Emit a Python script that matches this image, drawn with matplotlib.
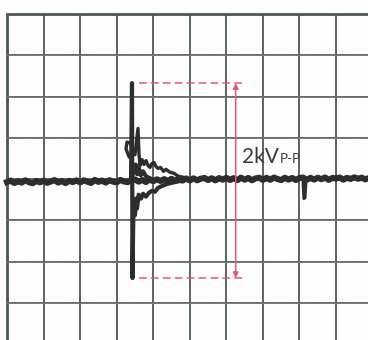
import numpy as np
import matplotlib
matplotlib.use("Agg")
import matplotlib.pyplot as plt

# Scope settings
KV_PER_DIV = 0.4235          # vertical scale, kV per division
N_XDIV, N_YDIV = 10, 8       # graticule divisions

# Baseline trace, sampled every 0.1 div (time in divisions, voltage in kV)
base_t = np.round(np.arange(0.0, 10.0, 0.1), 2)
base_v = [
    -0.030, -0.015, -0.040, -0.022, -0.036, -0.012, -0.031, -0.042, -0.019, -0.033,
    -0.016, -0.038, -0.024, -0.010, -0.035, -0.020, -0.041, -0.018, -0.030, -0.013,
    -0.034, -0.012, -0.027, -0.039, -0.008, -0.028, -0.015, -0.036, -0.011, -0.026,
    -0.033, -0.008, -0.024, -0.031, -0.012, -0.004, -0.026, -0.009, -0.030, -0.003,
    -0.022, -0.002, -0.019, 0.000, -0.020, 0.003, -0.017, 0.005, -0.016, 0.007,
    -0.014, 0.008, -0.012, 0.004, 0.012, -0.010, 0.009, -0.013, 0.011, -0.006,
    0.013, -0.009, 0.010, -0.011, 0.015, -0.006, 0.012, -0.012, 0.008, 0.014,
    -0.008, 0.013, -0.007, 0.016, 0.001, -0.010, 0.014, -0.005, 0.012, -0.009,
    0.011, 0.016, -0.007, 0.013, -0.005, 0.014, -0.001, 0.017, -0.008, 0.012,
    0.006, 0.016, -0.006, 0.013, 0.002, 0.018, 0.004, 0.015, -0.003, 0.011,
]

# Main pulse with the lower ringing branch
pulse_t = [3.392, 3.419, 3.432, 3.460, 3.500, 3.530, 3.556, 3.600, 3.665, 3.720,
           3.800, 3.884, 3.966, 4.048, 4.130, 4.240, 4.376, 4.595, 4.800]
pulse_v = [-0.020, 0.985, -1.015, -0.250, -0.370, -0.200, -0.300, -0.160, -0.200, -0.150,
           -0.180, -0.140, -0.120, -0.130, -0.090, -0.070, -0.050, -0.030, -0.015]

# Upper ringing branch (loop + secondary spike)
upper_t = [3.419, 3.337, 3.255, 3.282, 3.364, 3.419, 3.500, 3.583, 3.611, 3.638,
           3.693, 3.747, 3.802, 3.857, 3.911, 3.966, 4.020, 4.075, 4.130, 4.200,
           4.280, 4.349, 4.458, 4.568, 4.677, 4.814, 4.951]
upper_v = [0.200, 0.230, 0.310, 0.380, 0.370, 0.330, 0.250, 0.520, 0.250, 0.140,
           0.200, 0.150, 0.190, 0.140, 0.120, 0.160, 0.170, 0.130, 0.110, 0.120,
           0.080, 0.100, 0.070, 0.060, 0.030, 0.020, 0.000]

# Middle sweep around the pulse
mid_t = [3.440, 3.470, 3.520, 3.560, 3.600, 3.660, 3.720, 3.800, 3.900]
mid_v = [0.050, 0.100, 0.150, 0.050, 0.120, 0.040, 0.080, 0.030, 0.010]

# Small glitch later in the sweep
glitch_t = [8.096, 8.120, 8.150, 8.178]
glitch_v = [-0.010, -0.200, -0.190, -0.010]

# Peak-to-peak annotation
label_main = "2kV"
label_sub = "P-P"

trace_color = "#2a2f2c"
grid_color = "#4b5854"
pink = "#e2557f"
paper = "#fdfdfb"

fig = plt.figure(figsize=(3.68, 3.40), dpi=100, facecolor=paper)
ax = fig.add_axes([0, 0, 1, 1])
ax.set_facecolor(paper)
ax.set_xlim(-0.1915, 9.874)
ax.set_ylim(-1.650, 1.837)
ax.axis("off")

# Graticule
half = N_YDIV / 2
for i in range(N_XDIV + 1):
    lw = 2.0 if i in (0, N_XDIV) else 1.3
    ax.plot([i, i], [-half * KV_PER_DIV, half * KV_PER_DIV], color=grid_color,
            lw=lw, solid_capstyle="butt", zorder=1)
for j in range(-int(half), int(half) + 1):
    y = j * KV_PER_DIV
    if abs(j) == half:
        ax.plot([0, N_XDIV], [y, y], color=grid_color, lw=2.0, zorder=1)
    else:
        ax.plot([0, N_XDIV], [y, y], color="#606c68", lw=1.4, zorder=1)
        ax.plot([0, N_XDIV], [y, y], color=paper, lw=0.5, alpha=0.3,
                dashes=(1, 1), zorder=1)

# Traces
ax.plot(base_t, base_v, color=trace_color, lw=4.4, solid_joinstyle="round", zorder=3)
ax.plot(pulse_t, pulse_v, color=trace_color, lw=3.0, solid_capstyle="butt",
        solid_joinstyle="round", zorder=4)
ax.plot(upper_t, upper_v, color=trace_color, lw=2.4, solid_joinstyle="round", zorder=4)
ax.plot(mid_t, mid_v, color=trace_color, lw=3.0, solid_joinstyle="round", zorder=4)
ax.plot(glitch_t, glitch_v, color=trace_color, lw=2.2, zorder=4)

# Peak-to-peak markers drawn from the pulse extremes
vmax, vmin = max(pulse_v), min(pulse_v)
ax.plot([3.60, 6.48], [vmax, vmax], color=pink, lw=1.1, dashes=(5, 2.8), zorder=5)
ax.plot([3.60, 6.48], [vmin, vmin], color=pink, lw=1.1, dashes=(5, 2.8), zorder=5)
ax.annotate("", xy=(6.255, vmax), xytext=(6.255, vmin),
            arrowprops=dict(arrowstyle="<|-|>", color=pink, lw=1.1,
                            mutation_scale=8, shrinkA=0, shrinkB=0), zorder=5)

ax.text(6.43, 0.165, label_main, fontsize=15, family=["Lato", "DejaVu Sans"],
        fontweight="normal", color="#3a3a3a", va="baseline", ha="left", zorder=6)
ax.text(7.47, 0.165, label_sub, fontsize=9.5, family=["Lato", "DejaVu Sans"],
        fontweight="normal", color="#3a3a3a", va="baseline", ha="left", zorder=6)

fig.savefig("out.png", dpi=100, facecolor=fig.get_facecolor())
